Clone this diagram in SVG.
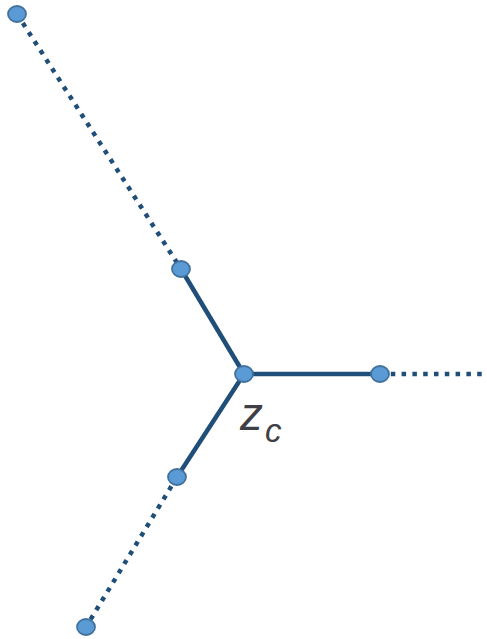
<svg xmlns="http://www.w3.org/2000/svg" width="487" height="639" viewBox="0 0 487 639">
<style>
.solid{stroke:#1f4e79;stroke-width:4.5;fill:none;stroke-linecap:butt}
.dot{stroke:#1f4e79;stroke-width:4.5;fill:none;stroke-dasharray:4.5 6.3}
.node{fill:#5b9bd5;stroke:#41719c;stroke-width:1.8}
.lbl{font-family:"Liberation Sans",Arial,sans-serif;font-style:italic;fill:#3f3f46}
</style>
<rect width="487" height="639" fill="#ffffff"/>
<g id="connectors">
<line class="dot" x1="17" y1="14" x2="181" y2="269"/>
<line class="solid" x1="181" y1="269" x2="244" y2="374"/>
<line class="solid" x1="244" y1="374" x2="380" y2="374"/>
<line class="dot" x1="380" y1="374" x2="489" y2="374"/>
<line class="solid" x1="244" y1="374" x2="177" y2="477"/>
<line class="dot" x1="177" y1="477" x2="86" y2="627"/>
</g>
<g id="n1"><ellipse class="node" cx="17" cy="14" rx="9" ry="8"/></g>
<g id="n2"><ellipse class="node" cx="181" cy="269" rx="9" ry="8"/></g>
<g id="nC"><ellipse class="node" cx="244" cy="374" rx="9" ry="8"/></g>
<g id="n3"><ellipse class="node" cx="380" cy="374" rx="9" ry="8"/></g>
<g id="n4"><ellipse class="node" cx="177" cy="477" rx="9" ry="8"/></g>
<g id="n5"><ellipse class="node" cx="86" cy="627" rx="9" ry="8"/></g>
<g id="label"><text class="lbl" x="240" y="430" font-size="46">z<tspan x="265" y="442" font-size="33">c</tspan></text></g>
</svg>
